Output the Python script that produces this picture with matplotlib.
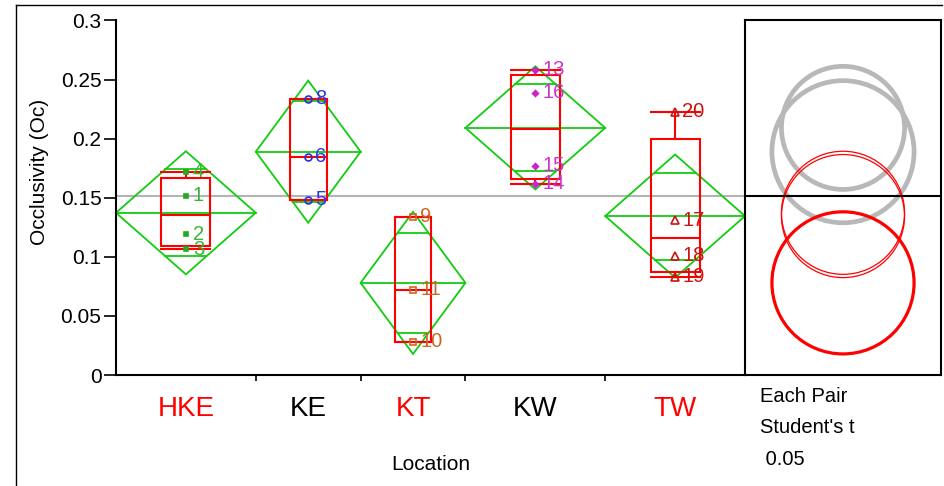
import numpy as np
import matplotlib
matplotlib.use('Agg')
import matplotlib.pyplot as plt
from matplotlib.patches import Circle, Polygon, Rectangle
from matplotlib.lines import Line2D

plt.rcParams['font.family'] = ['Liberation Sans', 'DejaVu Sans']

# ---------------- data ----------------
locations = ['HKE', 'KE', 'KT', 'KW', 'TW']
row_ids = [[1, 2, 3, 4], [5, 6, 8], [9, 10, 11], [13, 14, 15, 16], [17, 18, 19, 20]]
hke = [0.1517, 0.1191, 0.1063, 0.1720]
ke = [0.1483, 0.1847, 0.2339]
kt = [0.1339, 0.0280, 0.0720]
kw = [0.2585, 0.1619, 0.1771, 0.2390]
tw = [0.1310, 0.1010, 0.0831, 0.2229]
values = [hke, ke, kt, kw, tw]
y_ticks = [0, 0.05, 0.1, 0.15, 0.2, 0.25, 0.3]
y_tick_labels = ['0', '0.05', '0.1', '0.15', '0.2', '0.25', '0.3']
t_crit = 2.160          # Student's t, alpha = 0.05, df = 13
selected = 'KT'
significant = ['KE', 'KW']
test_text = ['Each Pair', "Student's t", ' 0.05']

# ---------------- statistics ----------------
n = [len(v) for v in values]
bounds = np.concatenate([[0], np.cumsum(n)]).astype(float)
centers = (bounds[:-1] + bounds[1:]) / 2
means = [np.mean(v) for v in values]
ss = sum(np.sum((np.array(v) - np.mean(v)) ** 2) for v in values)
dfe = sum(n) - len(values)
s_pool = np.sqrt(ss / dfe)
ci = [t_crit * s_pool / np.sqrt(k) for k in n]
grand_mean = np.mean(np.concatenate([np.array(v) for v in values]))


def jmp_quantile(v, p):
    s = np.sort(v)
    k = len(s)
    pos = p * (k + 1)
    if pos <= 1:
        return s[0]
    if pos >= k:
        return s[-1]
    lo = int(np.floor(pos))
    fr = pos - lo
    return s[lo - 1] + fr * (s[lo] - s[lo - 1])


# ---------------- figure ----------------
W, H = 945, 486
fig = plt.figure(figsize=(W / 100, H / 100), dpi=100)

def fx(px):
    return px / W

def fy(py):
    return 1 - py / H

# outer frame (top & left)
fig.add_artist(Line2D([fx(16), fx(942)], [fy(5), fy(5)], color='black', lw=1.0))
fig.add_artist(Line2D([fx(16), fx(16)], [fy(5), 0], color='black', lw=1.0))

L, R, T, B = 116, 745, 20.5, 375
ax = fig.add_axes([fx(L), fy(B), fx(R) - fx(L), fy(T) - fy(B)])
ax.set_xlim(bounds[0], bounds[-1])
ax.set_ylim(0, 0.3)
for sp in ['top', 'right']:
    ax.spines[sp].set_visible(False)
for sp in ['left', 'bottom']:
    ax.spines[sp].set_linewidth(1.5)

ax.set_yticks(y_ticks)
ax.set_yticklabels(y_tick_labels, fontsize=15)
ax.tick_params(axis='y', length=8.5, width=1.2, pad=2)
ax.set_xticks(bounds[1:-1])
ax.set_xticklabels([''] * (len(bounds) - 2))
ax.tick_params(axis='x', length=4, width=1.2)

# grand mean line
ax.axhline(grand_mean, color='#b4b4b4', lw=1.5, zorder=1)

green = '#11cc11'
red = '#ff0000'
marker_colors = ['#22aa22', '#2233dd', '#cc6622', '#cc22cc', '#cc1111']
label_colors = ['#33b833', '#3333ee', '#cc6622', '#cc33cc', '#cc1111']
marker_styles = [dict(marker='s', ms=2.5, filled=True),
                 dict(marker='o', ms=5, filled=False),
                 dict(marker='s', ms=5, filled=False),
                 dict(marker='D', ms=3, filled=True),
                 dict(marker='^', ms=5.5, filled=False)]

for i, v in enumerate(values):
    b0, b1, c, m, h = bounds[i], bounds[i + 1], centers[i], means[i], ci[i]
    # means diamond
    ax.add_patch(Polygon([(b0, m), (c, m + h), (b1, m), (c, m - h)], closed=True,
                         fill=False, edgecolor=green, lw=1.3, zorder=2))
    ax.plot([b0, b1], [m, m], color=green, lw=1.3, zorder=2)
    d = h / np.sqrt(2)
    hw = (1 - 1 / np.sqrt(2)) * (b1 - b0) / 2
    for yy in (m + d, m - d):
        ax.plot([c - hw, c + hw], [yy, yy], color=green, lw=1.3, zorder=2)
    # quantile box
    bw = 0.35 * (b1 - b0)
    q1, med, q3 = jmp_quantile(v, 0.25), jmp_quantile(v, 0.5), jmp_quantile(v, 0.75)
    vmin, vmax = min(v), max(v)
    ax.add_patch(Rectangle((c - bw / 2, q1), bw, q3 - q1, fill=False,
                           edgecolor=red, lw=1.5, zorder=3))
    ax.plot([c - bw / 2, c + bw / 2], [med, med], color=red, lw=1.5, zorder=3)
    ax.plot([c, c], [q3, vmax], color=red, lw=1.5, zorder=3)
    ax.plot([c, c], [q1, vmin], color=red, lw=1.5, zorder=3)
    ax.plot([c - bw / 2, c + bw / 2], [vmax, vmax], color=red, lw=1.5, zorder=3)
    ax.plot([c - bw / 2, c + bw / 2], [vmin, vmin], color=red, lw=1.5, zorder=3)
    # points
    st = marker_styles[i]
    col = marker_colors[i]
    ax.plot([c] * len(v), v, linestyle='none', marker=st['marker'], ms=st['ms'],
            mfc=col if st['filled'] else 'none', mec=col, mew=1.2, zorder=5)
    for rid, val in zip(row_ids[i], v):
        ax.annotate(str(rid), (c, val), xytext=(7, 0), textcoords='offset pixels',
                    fontsize=14.5, color=label_colors[i], va='center', ha='left', zorder=6)
    # category label
    lab_col = 'black' if locations[i] in significant else red
    ax.text(c, (B - 409) / (B - T), locations[i], transform=ax.get_xaxis_transform(),
            ha='center', va='center', fontsize=20, color=lab_col)

ax.text(0.5, (B - 464) / (B - T), 'Location', transform=ax.transAxes,
        ha='center', va='center', fontsize=15)
fig.text(fx(40), fy(172), 'Occlusivity (Oc)', rotation=90, ha='center', va='center',
         fontsize=15)

# ---------------- comparison circles ----------------
R2 = 941
ax2 = fig.add_axes([fx(R), fy(B), fx(R2) - fx(R), fy(T) - fy(B)])
half_w = 0.3 * ((R2 - R) / (B - T)) / 2
ax2.set_xlim(-half_w, half_w)
ax2.set_ylim(0, 0.3)
ax2.set_xticks([])
ax2.set_yticks([])
for sp in ax2.spines.values():
    sp.set_linewidth(1.5)
ax2.axhline(grand_mean, color='black', lw=1.5, zorder=10)
for i, loc in enumerate(locations):
    if loc in significant:
        ax2.add_patch(Circle((0, means[i]), ci[i], fill=False, edgecolor='#b8b8b8',
                             lw=3.4, zorder=2))
for i, loc in enumerate(locations):
    if loc not in significant and loc != selected:
        ax2.add_patch(Circle((0, means[i]), ci[i], fill=False, edgecolor=red,
                             lw=0.9, zorder=3))
for i, loc in enumerate(locations):
    if loc == selected:
        ax2.add_patch(Circle((0, means[i]), ci[i], fill=False, edgecolor=red,
                             lw=2.3, zorder=4))

for txt, py in zip(test_text, [396, 427, 459]):
    fig.text(fx(760), fy(py), txt, ha='left', va='center', fontsize=14.5)

fig.savefig('out.png', dpi=100)
